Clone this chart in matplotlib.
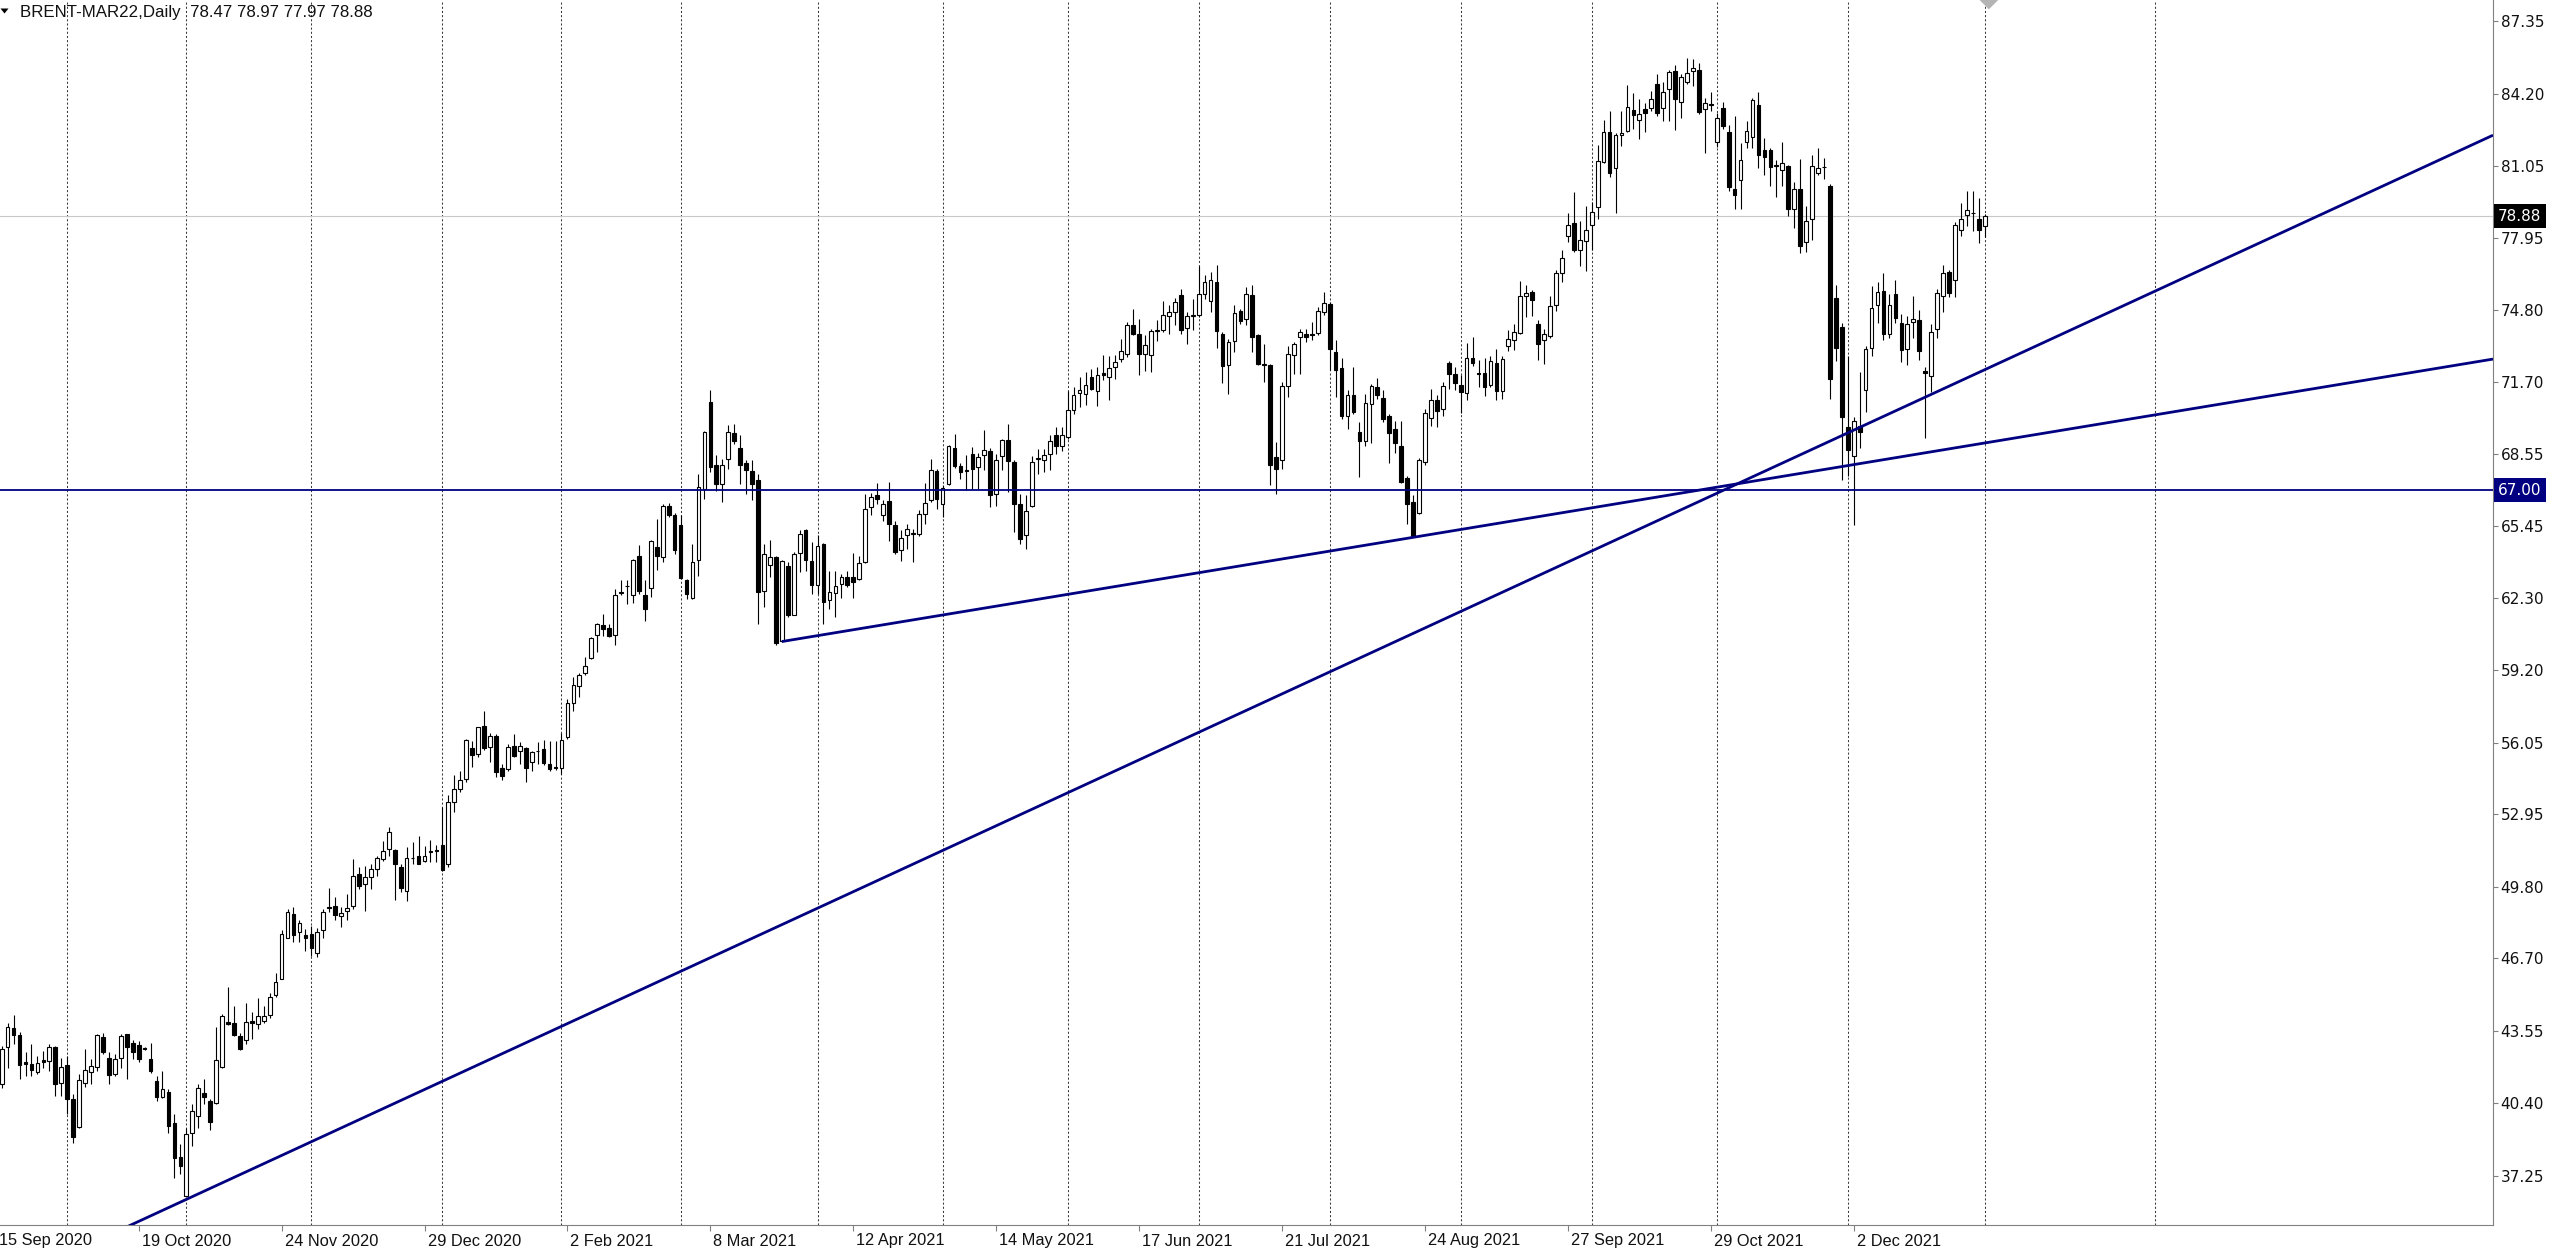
import matplotlib
matplotlib.use('Agg')
import matplotlib.pyplot as plt
import numpy as np
from matplotlib.transforms import blended_transform_factory, ScaledTranslation
from matplotlib.patches import Polygon

# ---------------- data (daily OHLC, BRENT-MAR22) ----------------
opens = [41.25, 42.82, 43.66, 43.37, 42.21, 42.09, 41.76, 42.28, 42.24, 42.82,
         41.27, 42.06, 40.57, 39.37, 41.30, 41.76, 41.99, 43.28, 42.38, 41.66,
         42.35, 43.40, 43.00, 42.93, 42.79, 42.31, 41.37, 40.67, 40.89, 39.56,
         38.07, 36.38, 39.13, 39.85, 40.86, 40.50, 40.43, 41.99, 43.93, 43.90,
         43.32, 43.13, 43.97, 43.83, 43.97, 44.22, 45.09, 45.81, 47.59, 48.63,
         47.85, 47.71, 47.74, 46.94, 47.91, 48.90, 48.94, 48.52, 48.72, 48.94,
         50.34, 49.91, 50.20, 50.56, 50.99, 51.43, 51.38, 50.66, 49.59, 51.06,
         51.14, 50.92, 51.28, 51.40, 51.60, 50.78, 53.45, 54.03, 54.47, 55.80,
         55.55, 56.78, 55.84, 56.35, 54.94, 54.90, 55.88, 55.70, 55.80, 55.19,
         55.67, 55.77, 55.12, 54.97, 54.94, 56.28, 57.75, 58.52, 59.05, 59.71,
         60.73, 61.15, 61.01, 60.72, 62.53, 62.82, 62.46, 64.16, 62.47, 62.75,
         64.53, 64.09, 66.33, 65.94, 65.49, 63.08, 62.31, 63.97, 67.06, 70.82,
         68.07, 67.25, 68.33, 69.47, 68.84, 68.19, 67.83, 67.42, 62.64, 63.73,
         64.09, 60.47, 63.69, 61.59, 64.28, 65.28, 63.92, 62.90, 64.64, 62.24,
         62.54, 62.93, 63.22, 63.22, 63.15, 63.90, 66.26, 66.80, 65.90, 66.52,
         65.49, 64.41, 65.06, 65.10, 65.10, 65.97, 66.58, 67.83, 66.38, 67.25,
         68.84, 68.03, 67.85, 68.55, 68.00, 68.53, 68.69, 66.81, 68.50, 69.18,
         68.22, 66.41, 65.07, 66.33, 68.35, 68.29, 68.58, 69.37, 68.90, 69.30,
         70.46, 71.21, 71.18, 71.91, 71.30, 72.10, 71.91, 72.34, 72.70, 72.92,
         74.18, 73.76, 72.89, 72.85, 73.90, 73.96, 74.54, 74.73, 75.45, 74.05,
         74.55, 74.58, 75.52, 75.21, 76.03, 73.76, 72.41, 73.47, 74.76, 74.44,
         75.45, 73.72, 72.41, 72.41, 68.43, 68.32, 71.52, 72.85, 73.64, 73.76,
         73.79, 73.82, 74.73, 75.07, 72.99, 72.29, 70.23, 71.14, 69.53, 69.13,
         70.74, 71.48, 70.99, 70.23, 69.67, 68.91, 67.51, 66.49, 66.00, 68.20,
         70.11, 70.89, 70.52, 72.50, 72.02, 71.58, 71.23, 72.73, 72.06, 72.06,
         71.55, 72.50, 71.29, 73.24, 73.53, 73.83, 75.40, 75.59, 74.22, 73.49,
         73.68, 75.04, 76.43, 78.01, 78.60, 77.43, 77.79, 78.48, 79.26, 81.24,
         82.53, 80.98, 82.39, 82.59, 83.47, 83.07, 83.55, 83.59, 84.62, 83.56,
         84.40, 85.20, 83.85, 84.69, 85.17, 85.23, 83.51, 83.73, 82.12, 83.59,
         82.53, 80.07, 80.43, 82.12, 82.30, 83.71, 81.75, 81.75, 81.09, 80.87,
         81.06, 79.19, 80.07, 77.75, 78.77, 80.77, 81.00, 80.18, 75.34, 74.08,
         69.72, 68.47, 69.79, 71.33, 73.17, 75.05, 75.63, 73.75, 75.52, 74.27,
         73.14, 74.31, 74.37, 72.17, 71.96, 73.97, 75.40, 76.47, 76.13, 78.27,
         78.92, 79.04, 78.77, 78.47]
highs = [42.90, 43.90, 44.23, 43.50, 42.64, 42.96, 42.45, 42.67, 42.96, 42.90,
         42.38, 42.45, 40.79, 41.66, 42.74, 42.34, 43.42, 43.47, 42.64, 42.53,
         43.40, 43.42, 43.13, 43.10, 42.83, 43.03, 41.59, 41.80, 41.01, 39.92,
         38.62, 39.34, 40.36, 41.25, 41.44, 40.57, 43.73, 44.26, 45.46, 44.63,
         43.47, 44.73, 44.34, 44.96, 44.63, 45.20, 46.04, 47.91, 48.82, 48.92,
         48.35, 47.95, 48.10, 48.00, 48.82, 49.76, 49.36, 48.92, 49.47, 50.99,
         50.63, 50.70, 50.78, 51.14, 51.79, 52.40, 51.43, 50.78, 51.53, 51.74,
         52.00, 51.57, 51.82, 51.61, 53.26, 53.78, 54.65, 54.83, 56.20, 56.13,
         56.74, 57.40, 56.45, 56.42, 55.12, 55.99, 56.42, 56.09, 55.84, 55.67,
         56.06, 56.16, 56.13, 56.13, 56.45, 57.94, 58.88, 59.05, 59.75, 60.62,
         61.23, 61.63, 61.20, 62.72, 63.08, 63.11, 64.02, 64.60, 63.08, 64.84,
         65.76, 66.38, 66.44, 66.00, 65.90, 63.15, 64.64, 67.71, 69.55, 71.36,
         68.51, 68.36, 69.81, 69.85, 69.37, 68.29, 68.29, 67.68, 64.67, 64.84,
         64.12, 63.97, 63.87, 64.31, 65.28, 65.32, 64.74, 65.07, 64.70, 63.48,
         63.48, 63.37, 63.48, 64.27, 64.12, 66.81, 66.87, 67.30, 66.55, 67.35,
         65.68, 65.25, 65.54, 65.32, 66.12, 67.30, 68.36, 67.93, 67.20, 68.94,
         69.42, 68.17, 68.51, 68.87, 68.61, 69.59, 68.84, 68.58, 69.23, 69.88,
         68.29, 66.84, 66.77, 68.50, 68.79, 68.79, 69.37, 69.73, 69.73, 71.30,
         71.47, 71.91, 72.12, 72.27, 72.34, 72.85, 72.80, 72.85, 73.57, 74.29,
         74.87, 74.44, 73.72, 74.00, 74.37, 75.21, 75.02, 75.35, 75.74, 74.73,
         75.31, 76.71, 76.32, 76.47, 76.75, 73.86, 73.57, 75.02, 74.87, 75.81,
         75.89, 73.79, 73.35, 72.49, 69.08, 71.69, 73.24, 73.43, 74.00, 74.00,
         74.30, 74.95, 75.60, 75.15, 73.49, 72.73, 71.33, 72.36, 69.97, 71.18,
         71.62, 71.87, 71.33, 70.30, 70.01, 70.01, 67.59, 66.78, 68.39, 70.52,
         71.38, 71.11, 71.70, 72.58, 72.32, 71.99, 73.39, 73.64, 72.65, 72.73,
         72.80, 73.14, 72.80, 73.93, 74.19, 76.07, 75.88, 75.69, 74.37, 73.97,
         75.44, 76.54, 77.40, 79.01, 79.92, 78.67, 79.33, 79.51, 81.97, 83.07,
         83.44, 82.49, 83.44, 84.59, 84.21, 83.96, 83.81, 84.32, 85.06, 84.69,
         85.23, 85.42, 85.06, 85.76, 85.72, 85.53, 84.03, 84.25, 83.37, 83.85,
         82.85, 83.22, 82.05, 83.00, 84.03, 84.25, 82.27, 81.83, 81.31, 82.09,
         81.09, 80.36, 81.36, 79.33, 81.53, 81.86, 81.42, 80.29, 75.88, 74.27,
         72.80, 70.16, 72.14, 73.24, 75.84, 76.03, 76.43, 75.52, 76.10, 74.66,
         74.56, 75.44, 74.81, 72.36, 74.19, 75.74, 76.76, 76.54, 78.63, 79.45,
         79.99, 79.99, 79.65, 78.97]
lows = [41.08, 41.95, 42.96, 41.44, 41.59, 41.59, 41.66, 41.95, 41.80, 40.72,
        40.72, 39.92, 38.69, 39.34, 41.11, 41.25, 41.80, 42.53, 41.25, 41.59,
        41.95, 41.44, 42.31, 42.21, 42.70, 41.73, 40.50, 40.65, 39.13, 37.17,
        37.32, 36.33, 38.55, 39.34, 40.36, 39.23, 40.36, 41.95, 43.79, 43.32,
        42.70, 42.99, 43.18, 43.61, 43.90, 44.12, 44.99, 45.78, 47.56, 47.38,
        47.38, 47.01, 46.80, 46.75, 47.59, 48.68, 48.34, 48.05, 48.34, 48.82,
        49.69, 48.73, 49.69, 50.27, 50.92, 51.14, 49.21, 49.55, 49.18, 50.78,
        50.78, 50.88, 50.85, 50.85, 50.49, 50.63, 53.02, 53.89, 54.32, 54.97,
        55.41, 55.72, 55.19, 54.54, 54.44, 54.83, 55.41, 55.12, 54.32, 54.80,
        55.12, 55.09, 54.80, 54.86, 54.68, 56.20, 57.43, 58.01, 58.98, 59.68,
        59.97, 60.69, 60.62, 60.26, 62.43, 62.06, 62.09, 62.50, 61.31, 62.35,
        63.54, 63.87, 65.83, 64.24, 63.15, 62.28, 62.27, 63.29, 66.62, 67.78,
        66.96, 66.48, 67.93, 69.01, 67.27, 66.84, 66.55, 61.20, 61.92, 63.22,
        60.30, 60.43, 61.49, 61.56, 63.44, 63.48, 62.50, 62.50, 61.20, 61.85,
        61.51, 62.32, 62.79, 62.32, 63.08, 63.83, 65.90, 66.41, 65.68, 64.81,
        64.24, 63.92, 64.45, 63.90, 65.03, 65.51, 66.48, 66.19, 65.83, 67.20,
        67.97, 67.49, 67.01, 67.06, 67.06, 67.85, 66.26, 66.29, 67.85, 66.91,
        65.17, 64.67, 64.45, 66.26, 67.71, 67.78, 67.85, 68.58, 68.69, 69.23,
        70.31, 70.60, 70.68, 71.33, 70.65, 71.76, 70.89, 71.83, 72.56, 72.77,
        73.72, 71.98, 72.17, 72.12, 73.47, 73.86, 73.79, 74.15, 73.79, 73.35,
        73.93, 74.51, 75.31, 74.73, 73.18, 71.65, 71.18, 73.00, 74.22, 74.15,
        73.00, 72.41, 71.69, 67.20, 66.84, 67.93, 71.04, 72.05, 72.05, 73.43,
        73.50, 73.72, 74.58, 72.21, 71.04, 70.08, 69.67, 70.30, 67.56, 68.91,
        69.06, 70.96, 69.94, 68.17, 68.59, 67.29, 65.53, 64.95, 65.97, 68.10,
        69.76, 69.72, 70.20, 71.40, 71.33, 70.35, 70.89, 72.40, 71.48, 71.08,
        71.48, 70.89, 70.93, 73.02, 73.09, 73.75, 74.49, 74.56, 72.65, 72.46,
        73.61, 74.78, 76.03, 77.75, 77.31, 76.72, 76.51, 77.43, 78.75, 81.17,
        80.58, 79.04, 81.94, 82.53, 82.68, 82.24, 82.53, 83.44, 83.22, 83.00,
        83.00, 82.64, 83.15, 84.62, 84.54, 83.32, 81.61, 83.44, 81.90, 82.68,
        79.99, 79.18, 79.18, 81.83, 81.83, 80.98, 80.65, 80.21, 79.70, 80.21,
        78.89, 78.38, 77.28, 77.35, 77.86, 80.65, 80.51, 70.96, 72.60, 67.44,
        67.59, 65.50, 68.83, 70.38, 72.80, 74.27, 73.53, 73.61, 74.27, 72.55,
        72.43, 73.61, 72.65, 69.27, 71.26, 73.61, 74.71, 75.37, 75.37, 78.04,
        78.45, 78.23, 77.72, 77.97]
closes = [42.74, 43.69, 43.37, 42.06, 42.12, 41.83, 42.14, 42.21, 42.82, 41.22,
          41.99, 40.57, 38.94, 41.40, 41.83, 42.01, 43.37, 42.64, 41.62, 42.31,
          43.32, 42.82, 42.64, 42.31, 42.74, 41.80, 40.67, 41.01, 39.41, 38.01,
          37.68, 39.08, 40.07, 41.08, 40.67, 39.59, 42.28, 44.19, 43.83, 43.35,
          42.74, 43.94, 43.87, 44.19, 44.19, 45.02, 45.67, 47.74, 48.68, 47.69,
          48.20, 47.56, 47.12, 47.81, 48.68, 48.85, 48.56, 48.66, 48.89, 50.27,
          49.81, 50.20, 50.56, 51.02, 51.35, 52.15, 50.78, 49.73, 51.04, 51.02,
          50.80, 51.14, 51.35, 51.35, 50.53, 53.45, 54.03, 54.42, 56.16, 55.52,
          56.71, 55.80, 56.35, 54.76, 54.61, 55.84, 55.48, 55.91, 54.94, 55.62,
          55.70, 55.15, 54.90, 54.94, 56.16, 57.75, 58.56, 58.98, 59.39, 60.59,
          61.17, 60.98, 60.69, 62.47, 62.57, 62.85, 63.95, 62.61, 61.85, 64.81,
          64.12, 66.33, 65.94, 64.38, 63.19, 62.50, 63.90, 67.13, 69.52, 68.00,
          67.25, 68.07, 69.52, 69.11, 68.11, 67.85, 67.25, 62.60, 64.24, 64.09,
          60.36, 63.92, 61.56, 64.24, 65.10, 63.95, 62.90, 64.57, 62.14, 62.60,
          62.83, 63.22, 62.90, 63.00, 63.84, 66.16, 66.72, 66.62, 66.41, 65.54,
          64.31, 64.93, 65.32, 65.13, 65.97, 66.43, 67.88, 66.62, 67.10, 68.90,
          68.03, 67.78, 67.82, 67.93, 68.43, 68.75, 66.77, 68.32, 69.16, 68.26,
          66.41, 64.86, 66.09, 68.22, 68.39, 68.53, 69.11, 68.90, 69.37, 70.49,
          71.14, 71.33, 71.57, 71.37, 71.98, 71.98, 72.31, 72.56, 73.02, 74.15,
          73.79, 72.92, 73.28, 73.90, 73.93, 74.58, 74.73, 75.16, 73.93, 74.54,
          74.58, 75.52, 76.03, 76.10, 73.90, 72.37, 73.43, 74.68, 74.34, 75.49,
          73.64, 72.46, 72.49, 68.07, 67.93, 71.52, 72.92, 73.35, 73.86, 73.64,
          73.74, 74.77, 75.12, 73.12, 72.21, 70.23, 71.14, 70.38, 69.13, 70.79,
          71.52, 71.14, 70.08, 69.47, 69.03, 67.37, 66.41, 65.02, 68.29, 70.35,
          70.89, 70.45, 71.52, 72.02, 71.63, 71.26, 72.73, 72.50, 72.03, 71.48,
          72.61, 71.29, 72.70, 73.56, 73.87, 75.40, 75.54, 75.25, 73.34, 73.78,
          75.00, 76.43, 77.06, 78.52, 77.40, 77.87, 78.30, 79.07, 81.27, 82.53,
          80.77, 82.39, 82.49, 83.62, 83.27, 83.30, 83.37, 83.96, 83.37, 84.29,
          85.13, 83.96, 84.91, 85.09, 85.32, 83.41, 83.81, 83.71, 83.12, 82.81,
          80.14, 79.80, 81.31, 82.56, 83.91, 81.53, 81.46, 81.02, 81.06, 81.17,
          79.19, 80.07, 77.60, 78.67, 81.06, 80.98, 81.02, 71.84, 73.17, 70.16,
          68.76, 70.01, 69.53, 73.14, 74.90, 75.59, 73.75, 75.05, 74.46, 73.09,
          74.22, 74.41, 73.05, 72.07, 73.87, 75.54, 76.43, 75.54, 78.52, 78.74,
          79.14, 79.01, 78.27, 78.88]

date_labels = ['15 Sep 2020', '19 Oct 2020', '24 Nov 2020', '29 Dec 2020',
               '2 Feb 2021', '8 Mar 2021', '12 Apr 2021', '14 May 2021',
               '17 Jun 2021', '21 Jul 2021', '24 Aug 2021', '27 Sep 2021',
               '29 Oct 2021', '2 Dec 2021']
date_label_bars = [-1, 23, 47, 71, 95, 119, 143, 167, 191, 215, 239, 263, 287, 311]
month_start_bars = [11, 31, 52, 74, 94, 114, 137, 158, 179, 201, 223, 245,
                    267, 288, 310, 333, 361.6]
price_ticks = [87.35, 84.20, 81.05, 77.95, 74.80, 71.70, 68.55, 65.45, 62.30,
               59.20, 56.05, 52.95, 49.80, 46.70, 43.55, 40.40, 37.25]
support_level = 67.00
last_price = 78.88
trend_a = [(31, 36.23), (312, 69.72)]   # long rising trend line
trend_b = [(131, 60.43), (237, 64.95)]  # shallow rising trend line (ray)
symbol_text = 'BRENT-MAR22,Daily'
header_ohlc = [78.47, 78.97, 77.97, 78.88]
shift_marker_bar = 333.7

# ---------------- figure ----------------
W, H = 2560, 1253
fig = plt.figure(figsize=(W / 100, H / 100), dpi=100)
fig.patch.set_facecolor('white')
ax_right_px, ax_bottom_px = 2493, 1225
ax = fig.add_axes([0, (H - ax_bottom_px) / H, ax_right_px / W, ax_bottom_px / H])
ax.set_facecolor('white')

XMIN, XMAX = -0.285, 418.35
YMIN, YMAX = 35.12, 88.26
ax.set_xlim(XMIN, XMAX)
ax.set_ylim(YMIN, YMAX)

navy = '#000080'
o = np.array(opens); h = np.array(highs); l = np.array(lows); c = np.array(closes)
x = np.arange(len(o))
up = c >= o

# month separators
for b in month_start_bars:
    ax.axvline(b, color='#3a3a3a', lw=0.75, ls=(0, (2, 2)), zorder=0.5)

# last price line
ax.axhline(last_price, color='#c8c8c8', lw=0.8, zorder=0.6)

# candles
ax.vlines(x, l, h, color='black', linewidth=0.8, zorder=3)
ax.bar(x, np.abs(c - o), bottom=np.minimum(o, c), width=0.62,
       color=np.where(up, 'white', 'black'), edgecolor='black',
       linewidth=0.8, zorder=4)

# horizontal support
ax.axhline(support_level, color=navy, lw=1.3, zorder=5)

# trend line A (extended both ways)
(a0, p0), (a1, p1) = trend_a
sa = (p1 - p0) / (a1 - a0)
xa = np.array([XMIN, XMAX])
ax.plot(xa, p0 + sa * (xa - a0), color=navy, lw=2.0, zorder=5,
        solid_capstyle='butt')
# trend line B (ray to the right)
(b0, q0), (b1, q1) = trend_b
sb = (q1 - q0) / (b1 - b0)
xb = np.array([b0, XMAX])
ax.plot(xb, q0 + sb * (xb - b0), color=navy, lw=2.0, zorder=5,
        solid_capstyle='butt')

# chart-shift marker at the top edge
ax.scatter([shift_marker_bar], [YMAX], marker='D', s=90, color='#b4b4b4',
           edgecolors='none', zorder=6, clip_on=True)

# spines
for s in ['left', 'top']:
    ax.spines[s].set_visible(False)
for s in ['right', 'bottom']:
    ax.spines[s].set_color('#808080')
    ax.spines[s].set_linewidth(0.8)

# y axis on the right
ax.yaxis.tick_right()
ax.set_yticks(price_ticks)
ax.set_yticklabels([f'{v:.2f}' for v in price_ticks])
ax.tick_params(axis='y', direction='out', length=3.5, width=0.8, color='#808080',
               pad=2, labelsize=11, labelcolor='#111111')
for t in ax.get_yticklabels():
    t.set_fontfamily('DejaVu Sans')

# x ticks (marks only), labels as text
ax.set_xticks([b for b in date_label_bars if XMIN <= b <= XMAX])
ax.set_xticklabels([])
ax.tick_params(axis='x', direction='out', length=4, width=0.8, color='#808080')
tr = blended_transform_factory(ax.transData, ax.transAxes) + \
    ScaledTranslation(3 / 100, -16 / 100, fig.dpi_scale_trans)
for b, lab in zip(date_label_bars, date_labels):
    ax.text(b, 0, lab, transform=tr, ha='left', va='center', fontsize=11.8,
            family=['Liberation Sans', 'DejaVu Sans'], color='#111111',
            clip_on=False)

# price boxes on the right scale
trb = blended_transform_factory(ax.transAxes, ax.transData) + \
    ScaledTranslation(5 / 100, 0, fig.dpi_scale_trans)
ax.text(1.0, last_price, f'{last_price:.2f}', transform=trb, ha='left', va='center',
        fontsize=11, color='white', family='DejaVu Sans', clip_on=False, zorder=10,
        bbox=dict(boxstyle='square,pad=0.28', fc='black', ec='none'))
ax.text(1.0, support_level, f'{support_level:.2f}', transform=trb, ha='left',
        va='center', fontsize=11, color='white', family='DejaVu Sans',
        clip_on=False, zorder=10,
        bbox=dict(boxstyle='square,pad=0.28', fc=navy, ec='none'))

# header text
header = symbol_text + '  ' + ' '.join(f'{v:.2f}' for v in header_ohlc)
fig.text(19.5 / W, 1 - 12.5 / H, header, ha='left', va='center', fontsize=12.2,
         family=['Liberation Sans', 'DejaVu Sans'], color='#111111')
tri = Polygon([[0.5 / W, 1 - 8.5 / H], [8.5 / W, 1 - 8.5 / H], [4.5 / W, 1 - 13.5 / H]],
              closed=True, transform=fig.transFigure, facecolor='black',
              edgecolor='none')
fig.add_artist(tri)

fig.savefig('out.png', dpi=100, facecolor='white')
